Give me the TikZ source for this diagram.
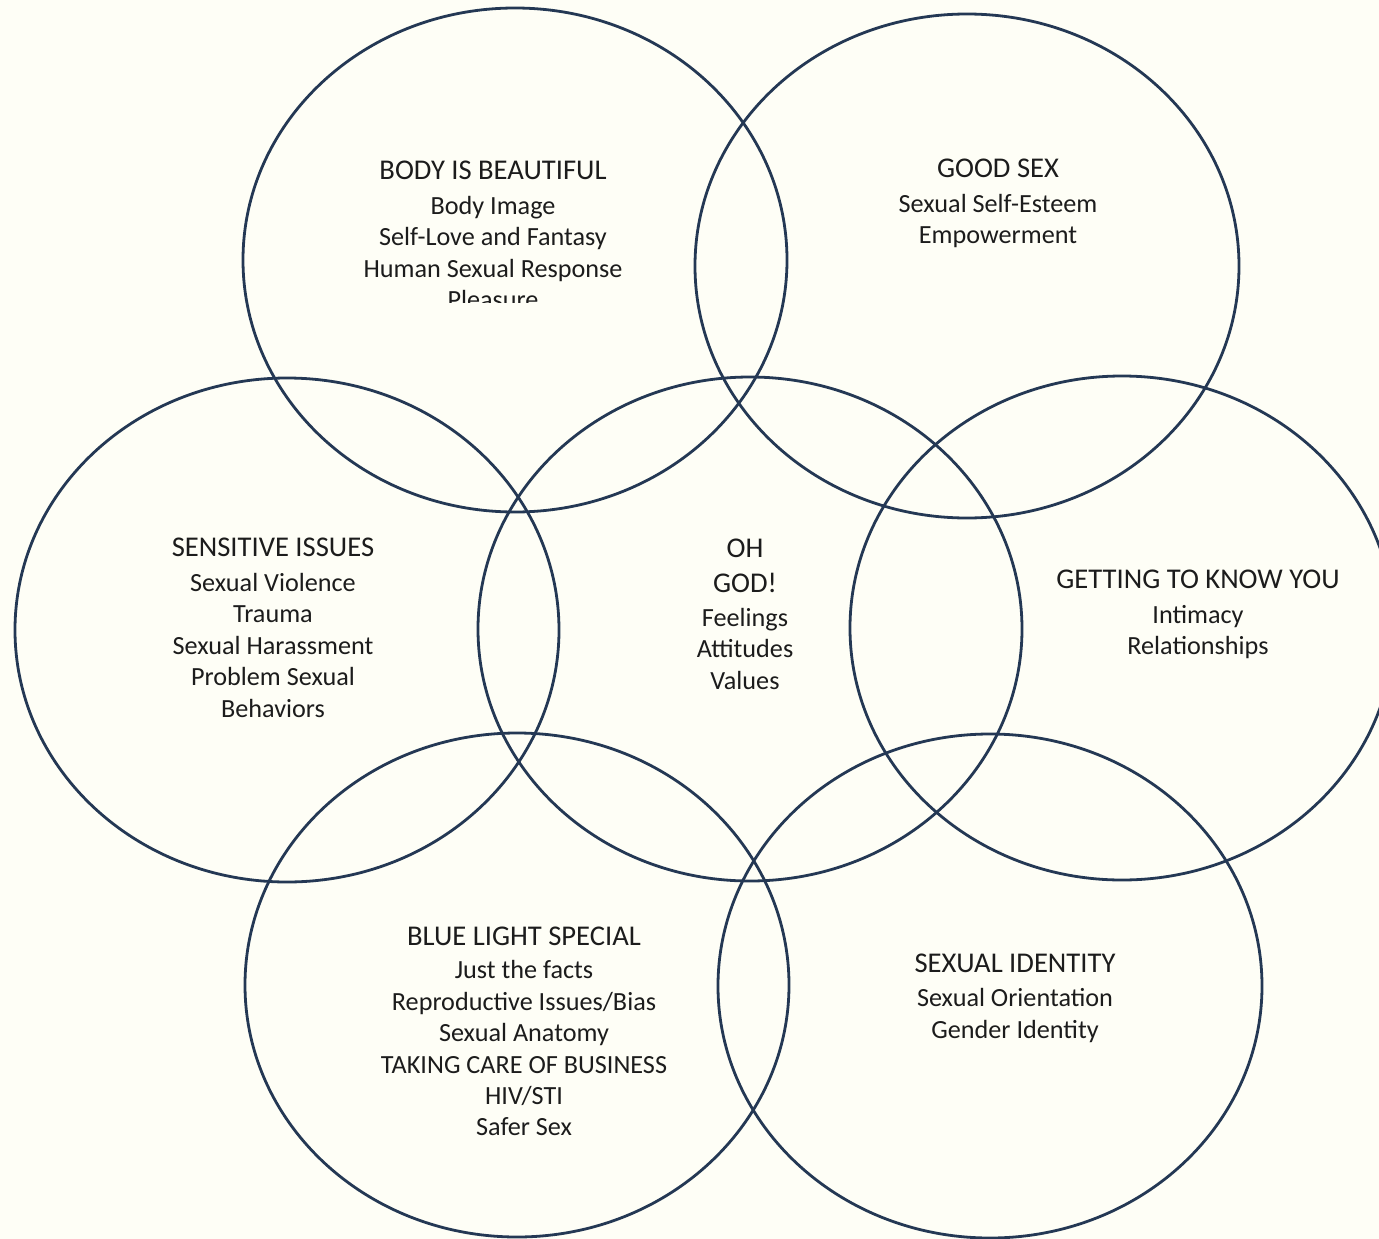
\documentclass[tikz,border=0pt]{standalone}
\usepackage{fontspec}
\setmainfont{Carlito}
\definecolor{ring}{RGB}{36,56,84}
\definecolor{paper}{RGB}{254,254,246}
\definecolor{ink}{RGB}{28,28,28}
% heading lines are set a little larger than the item lines
\newcommand\topichead[1]{{\fontsize{28.6}{31.4}\selectfont #1}}
\begin{document}
\begin{tikzpicture}[x=1pt,y=-1pt,
  ring/.style={draw=ring, line width=2.8pt},
  topic/.style={align=center, text=ink, inner sep=0pt, anchor=north,
    font=\fontsize{26.2}{31.4}\selectfont}]
\fill[paper] (0,0) rectangle (1379,1239);
\useasboundingbox (0,0) rectangle (1379,1239);

% ellipse centres
\coordinate (beauty)    at (515,260);
\coordinate (goodsex)   at (967,266);
\coordinate (sensitive) at (287,630);
\coordinate (ohgod)     at (750,629);
\coordinate (knowyou)   at (1122,628);
\coordinate (bluelight) at (517,985);
\coordinate (identity)  at (990,986);

\foreach \c in {beauty,goodsex,sensitive,ohgod,knowyou,bluelight,identity}
  \draw[ring] (\c) ellipse [x radius=272, y radius=252];

% topic texts
\begin{scope}
  \clip (300,140) rectangle (700,302.5);
  \node[topic] (tBeauty) at (493,160.8) {\topichead{BODY IS BEAUTIFUL}\\[3.5pt]Body Image\\Self-Love and Fantasy\\Human Sexual Response\\Pleasure};
\end{scope}
\node[topic] (tGoodsex) at (998,158.8) {\topichead{GOOD SEX}\\[3.5pt]Sexual Self-Esteem\\Empowerment};
\node[topic] (tSensitive) at (273,537.8) {\topichead{SENSITIVE ISSUES}\\[3.5pt]Sexual Violence\\Trauma\\Sexual Harassment\\Problem Sexual\\Behaviors};
\node[topic] (tOhgod) at (745,538.8) {\topichead{OH}\\[3.5pt]\topichead{GOD!}\\[2.5pt]Feelings\\Attitudes\\Values};
\node[topic] (tKnowyou) at (1198,569.8) {\topichead{GETTING TO KNOW YOU}\\[3.5pt]Intimacy\\Relationships};
\node[topic] (tBluelight) at (524,926.8) {\topichead{BLUE LIGHT SPECIAL}\\[2pt]Just the facts\\Reproductive Issues/Bias\\Sexual Anatomy\\TAKING CARE OF BUSINESS\\HIV/STI\\Safer Sex};
\node[topic] (tIdentity) at (1015,953.8) {\topichead{SEXUAL IDENTITY}\\[3pt]Sexual Orientation\\Gender Identity};
\end{tikzpicture}
\end{document}
